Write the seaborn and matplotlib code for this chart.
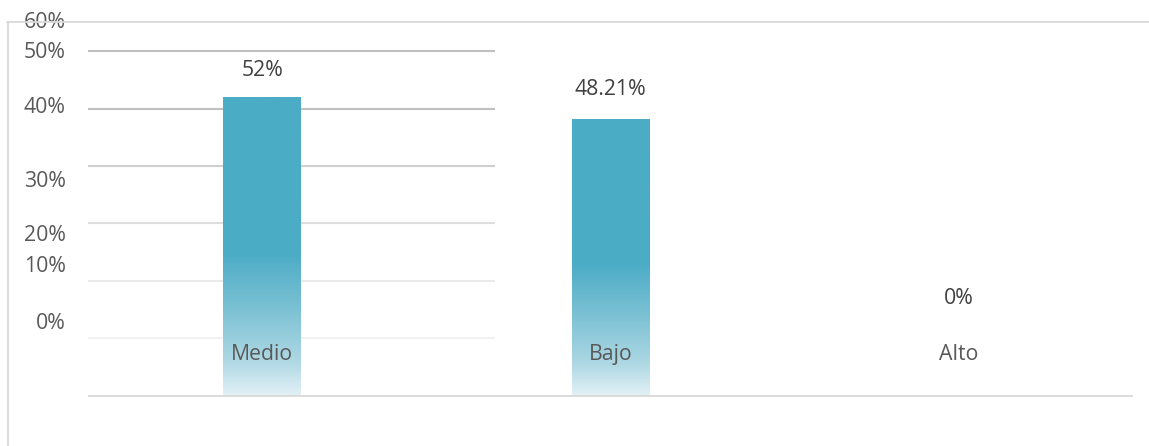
import matplotlib
matplotlib.use("Agg")
import matplotlib.pyplot as plt
import matplotlib.colors as mcolors
import matplotlib.transforms as mtransforms
from matplotlib.lines import Line2D
import numpy as np
import pandas as pd
import seaborn as sns

# data
categories = ["Medio", "Bajo", "Alto"]
values = [52.0, 48.21, 0.0]
value_labels = ["52%", "48.21%", "0%"]
tick_labels = ["60%", "50%", "40%", "30%", "20%", "10%", "0%"]
grid_values = [60, 50, 40, 30, 20, 10]

# positions (the original has its axis labels drifted off the grid)
tick_label_y = [64.0, 58.8, 49.2, 36.3, 27.0, 21.5, 11.6]
value_label_offset = [3.7, 4.2, 15.9]
category_label_y = 6.2
grid_colors = ["#bfbfbf", "#c0c0c0", "#cfcfcf", "#dedede", "#eaeaea", "#f1f1f1"]

sns.set_style("white")
plt.rcParams['font.family'] = ['Open Sans', 'DejaVu Sans']
FS = 15.3

W, H = 1149, 446
fig = plt.figure(figsize=(W / 100, H / 100), dpi=100)
ax_left, ax_right, ax_bottom, ax_top = 88, 1133, 395.7, 21.5
ax = fig.add_axes([ax_left / W, 1 - ax_bottom / H,
                   (ax_right - ax_left) / W, (ax_bottom - ax_top) / H])

df = pd.DataFrame({"cat": categories, "val": values})
sns.barplot(data=df, x="cat", y="val", ax=ax, width=0.2235,
            color="#4bacc6", saturation=1, edgecolor="none")

# gradient fill on the bars
grad = mcolors.LinearSegmentedColormap.from_list("fade", [
    (0.0, "#e3f1f6"), (0.12, "#acd7e3"), (0.3, "#79c0d3"),
    (0.48, "#4bacc6"), (1.0, "#4bacc6")])
for p in ax.patches:
    h = p.get_height()
    if h <= 0:
        continue
    x0 = p.get_x()
    img = np.linspace(0, 1, 256).reshape(-1, 1)
    im = ax.imshow(img, cmap=grad, origin="lower", aspect="auto",
                   extent=[x0, x0 + p.get_width(), 0, h], zorder=2)
    im.set_clip_path(p)
    p.set_facecolor("none")
ax.set_xlim(-0.5, 2.5)
ax.set_ylim(0, 65.19)

# short gridlines on the left part only
for g, c in zip(grid_values, grid_colors):
    ax.hlines(g, -0.5, 0.6676, color=c, lw=1.5, zorder=1)
ax.hlines(0, -0.5, 2.5, color="#d9d9d9", lw=1.3, zorder=3, clip_on=False)

for s in ax.spines.values():
    s.set_visible(False)
ax.set_xticks([])
ax.set_yticks([])
ax.set_xlabel("")
ax.set_ylabel("")

# drifted y labels
trans = mtransforms.blended_transform_factory(fig.transFigure, ax.transData)
for lab, y in zip(tick_labels, tick_label_y):
    ax.text(65.7 / W, y, lab, transform=trans, ha="right", va="baseline",
            fontsize=FS, color="#595959", clip_on=False)

# value labels and category names
for i, (v, lab, off) in enumerate(zip(values, value_labels, value_label_offset)):
    ax.text(i, v + off, lab, ha="center", va="baseline",
            fontsize=FS, color="#404040", clip_on=False)
    ax.text(i, category_label_y, categories[i], ha="center", va="baseline",
            fontsize=FS, color="#595959", zorder=4)

# outer frame (top and left only visible)
fig.add_artist(Line2D([7 / W, 1], [1 - 21.7 / H, 1 - 21.7 / H],
                      transform=fig.transFigure, color="#d9d9d9", lw=1.3))
fig.add_artist(Line2D([7.5 / W, 7.5 / W], [0, 1 - 21.7 / H],
                      transform=fig.transFigure, color="#d9d9d9", lw=1.3))

fig.savefig("out.png", dpi=100, facecolor="white")
